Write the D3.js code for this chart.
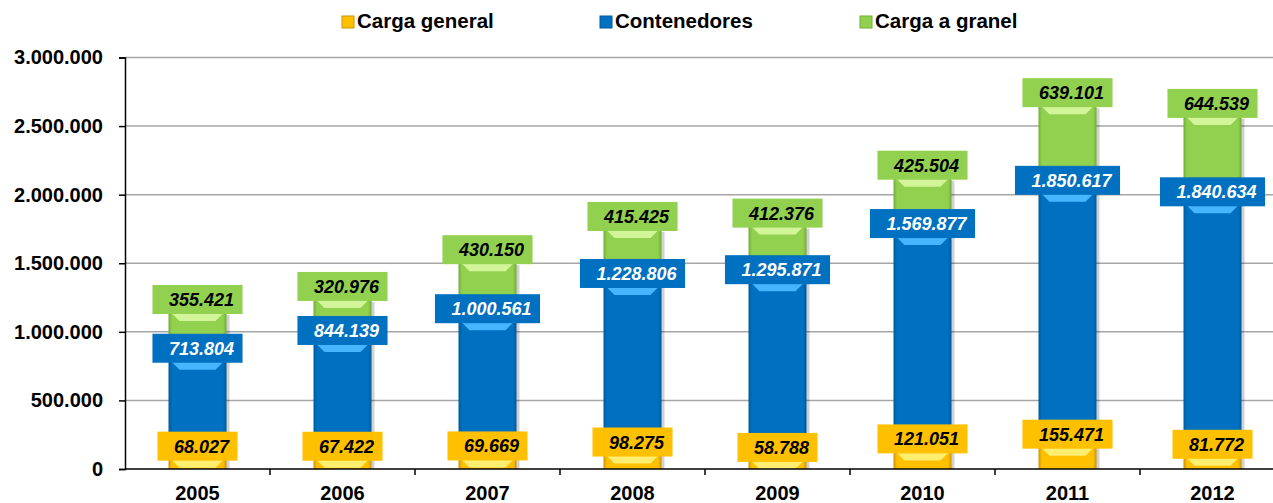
<!DOCTYPE html>
<html>
<head>
<meta charset="utf-8">
<script src="https://cdnjs.cloudflare.com/ajax/libs/d3/7.8.5/d3.min.js"></script>
<style>
  body { margin: 0; background: #fff; }
  text { font-family: Arial, "Liberation Sans", sans-serif; }
</style>
</head>
<body>
<div id="chart"></div>
<script>
// data
var years = ["2005", "2006", "2007", "2008", "2009", "2010", "2011", "2012"];
var cargaGeneral = [68027, 67422, 69669, 98275, 58788, 121051, 155471, 81772];
var contenedores = [713804, 844139, 1000561, 1228806, 1295871, 1569877, 1850617, 1840634];
var cargaGranel = [355421, 320976, 430150, 415425, 412376, 425504, 639101, 644539];
var seriesNames = ["Carga general", "Contenedores", "Carga a granel"];
var yTicks = [0, 500000, 1000000, 1500000, 2000000, 2500000, 3000000];

var colors = ["#FFC000", "#0070C0", "#92D050"],
    light = ["#FFEE70", "#45B6FF", "#D2F59A"],
    dark = ["#C99600", "#005A9C", "#6FAE35"],
    textColors = ["#000", "#fff", "#000"];

var width = 1273, height = 503;

var svg = d3.select("#chart").append("svg")
    .attr("width", width)
    .attr("height", height);

var x = d3.scaleBand().domain(years).range([125, 1285]).paddingInner(0).paddingOuter(0);
var y = d3.scaleLinear().domain([0, 3000000]).range([469, 57.5]);

var fmt = function(v) {
    return String(v).replace(/\B(?=(\d{3})+(?!\d))/g, ".");
};

// gradients for the cylinder look
var defs = svg.append("defs");
colors.forEach(function(c, i) {
    var g = defs.append("linearGradient").attr("id", "grad" + i)
        .attr("x1", "0%").attr("x2", "100%").attr("y1", "0%").attr("y2", "0%");
    g.append("stop").attr("offset", "0%").attr("stop-color", dark[i]);
    g.append("stop").attr("offset", "6%").attr("stop-color", c);
    g.append("stop").attr("offset", "94%").attr("stop-color", c);
    g.append("stop").attr("offset", "100%").attr("stop-color", dark[i]);
});

// gridlines
svg.append("g")
  .selectAll("line")
  .data(yTicks.slice(1))
  .enter().append("line")
  .attr("x1", 125).attr("x2", 1273)
  .attr("y1", function(d) { return y(d); })
  .attr("y2", function(d) { return y(d); })
  .attr("stroke", "#A6A6A6")
  .attr("stroke-width", 1.5);

// stack
var rows = years.map(function(yr, i) {
    return {year: yr, s0: cargaGeneral[i], s1: contenedores[i], s2: cargaGranel[i]};
});
var stacked = d3.stack().keys(["s0", "s1", "s2"])(rows);

var bw = 58;

// shadows
svg.append("g")
  .selectAll("rect")
  .data(rows)
  .enter().append("rect")
  .attr("x", function(d) { return x(d.year) + x.bandwidth() / 2 - bw / 2 + 3; })
  .attr("y", function(d) { return y(d.s0 + d.s1 + d.s2) + 2; })
  .attr("width", bw)
  .attr("height", function(d) { return y(0) - y(d.s0 + d.s1 + d.s2) - 2; })
  .attr("fill", "#000")
  .attr("opacity", 0.18);

stacked.forEach(function(layer, i) {
    var g = svg.append("g");
    g.selectAll("rect.seg")
      .data(layer)
      .enter().append("rect")
      .attr("class", "seg")
      .attr("x", function(d) { return x(d.data.year) + x.bandwidth() / 2 - bw / 2; })
      .attr("y", function(d) { return y(d[1]); })
      .attr("width", bw)
      .attr("height", function(d) { return y(d[0]) - y(d[1]); })
      .attr("fill", "url(#grad" + i + ")");
    // lighter bevel at segment top
    g.selectAll("path.bevel")
      .data(layer)
      .enter().append("path")
      .attr("class", "bevel")
      .attr("d", function(d) {
          var cx = x(d.data.year) + x.bandwidth() / 2,
              top = y(d[1]), h = 8;
          return "M" + (cx - bw / 2 + 3) + "," + top +
                 "L" + (cx + bw / 2 - 3) + "," + top +
                 "L" + (cx + bw / 2 - 3 - h) + "," + (top + h) +
                 "L" + (cx - bw / 2 + 3 + h) + "," + (top + h) + "Z";
      })
      .attr("fill", light[i]);
});

// axes
var yAxis = svg.append("g")
  .attr("transform", "translate(125,0)")
  .call(d3.axisLeft(y).tickValues(yTicks).tickFormat(fmt).tickSize(6).tickPadding(16));
yAxis.select(".domain").attr("stroke", "#000").attr("stroke-width", 1.5);
yAxis.selectAll(".tick line").attr("stroke", "#000").attr("stroke-width", 1.5);
yAxis.selectAll("text").attr("font-size", 20).attr("font-weight", "bold").attr("fill", "#000")
  .attr("font-family", "Arial, 'Liberation Sans', sans-serif");

var xAxis = svg.append("g")
  .attr("transform", "translate(0,469)");
xAxis.append("line").attr("x1", 125).attr("x2", 1273).attr("stroke", "#000").attr("stroke-width", 1.5);
xAxis.selectAll("line.tk")
  .data(years.slice(1))
  .enter().append("line")
  .attr("class", "tk")
  .attr("x1", function(d) { return x(d); })
  .attr("x2", function(d) { return x(d); })
  .attr("y1", 0).attr("y2", 6)
  .attr("stroke", "#000").attr("stroke-width", 1.5);
xAxis.selectAll("text")
  .data(years)
  .enter().append("text")
  .attr("x", function(d) { return x(d) + x.bandwidth() / 2; })
  .attr("y", 31)
  .attr("text-anchor", "middle")
  .attr("font-size", 20)
  .attr("font-weight", "bold")
  .text(function(d) { return d; });

// data labels
stacked.forEach(function(layer, i) {
    var g = svg.append("g");
    layer.forEach(function(d) {
        var v = d[1] - d[0],
            cx = x(d.data.year) + x.bandwidth() / 2,
            bottom = y(d[1]) + 1;
        var t = g.append("text")
          .attr("x", cx + 4)
          .attr("y", bottom - 8)
          .attr("text-anchor", "middle")
          .attr("font-size", 18)
          .attr("font-weight", "bold")
          .attr("font-style", "italic")
          .attr("fill", textColors[i])
          .text(fmt(v));
        var w = t.node().getComputedTextLength() + 25;
        g.insert("rect", function() { return t.node(); })
          .attr("x", cx - w / 2)
          .attr("y", bottom - 29)
          .attr("width", w)
          .attr("height", 29)
          .attr("fill", colors[i]);
    });
});

// legend
var legendX = [342, 600, 860];
var leg = svg.append("g");
seriesNames.forEach(function(name, i) {
    leg.append("rect")
      .attr("x", legendX[i]).attr("y", 16)
      .attr("width", 12).attr("height", 12)
      .attr("fill", colors[i])
      .attr("stroke", dark[i]).attr("stroke-width", 1);
    leg.append("text")
      .attr("x", legendX[i] + 15).attr("y", 28)
      .attr("font-size", 20.5)
      .attr("font-weight", "bold")
      .text(name);
});
</script>
</body>
</html>
